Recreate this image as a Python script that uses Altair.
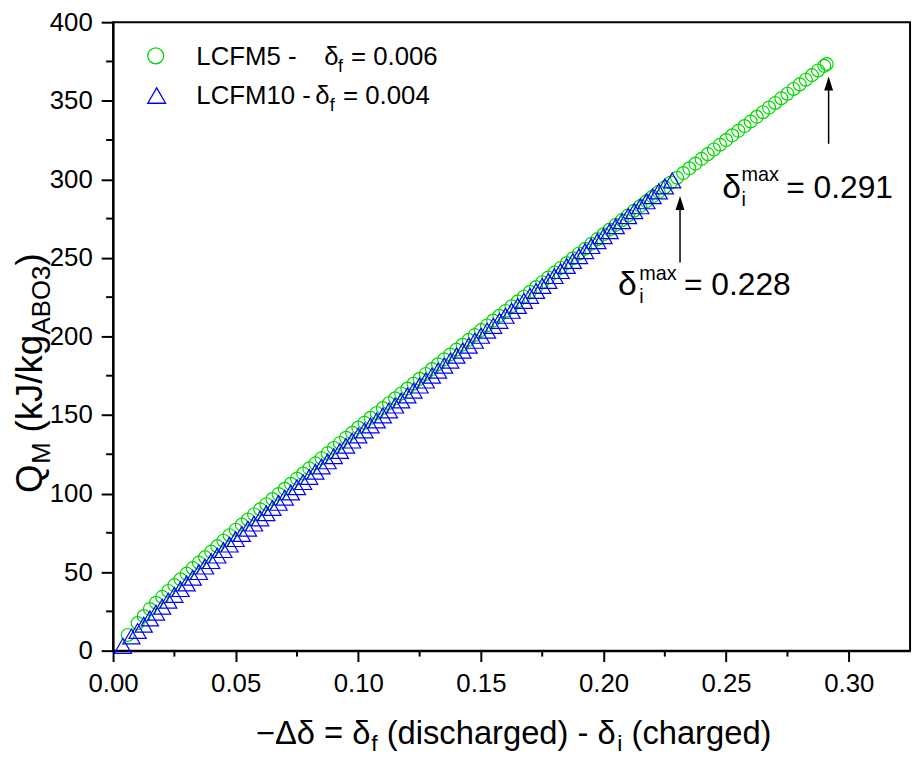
import altair as alt
import pandas as pd

# ---------------- data ----------------
lcfm5_delta = [
    0.006, 0.010, 0.0125, 0.015, 0.0175, 0.020, 0.0225, 0.025, 0.0275, 0.030,
    0.0325, 0.035, 0.0375, 0.040, 0.0425, 0.045, 0.0475, 0.050, 0.0525, 0.055,
    0.0575, 0.060, 0.0625, 0.065, 0.0675, 0.070, 0.0725, 0.075, 0.0775, 0.080,
    0.0825, 0.085, 0.0875, 0.090, 0.0925, 0.095, 0.0975, 0.100, 0.1025, 0.105,
    0.1075, 0.110, 0.1125, 0.115, 0.1175, 0.120, 0.1225, 0.125, 0.1275, 0.130,
    0.1325, 0.135, 0.1375, 0.140, 0.1425, 0.145, 0.1475, 0.150, 0.1525, 0.155,
    0.1575, 0.160, 0.1625, 0.165, 0.1675, 0.170, 0.1725, 0.175, 0.1775, 0.180,
    0.1825, 0.185, 0.1875, 0.190, 0.1925, 0.195, 0.1975, 0.200, 0.2025, 0.205,
    0.2075, 0.210, 0.2125, 0.215, 0.2175, 0.220, 0.2225, 0.225, 0.2275, 0.230,
    0.2325, 0.235, 0.2375, 0.240, 0.2425, 0.245, 0.2475, 0.250, 0.2525, 0.255,
    0.2575, 0.260, 0.2625, 0.265, 0.2675, 0.270, 0.2725, 0.275, 0.2775, 0.280,
    0.2825, 0.285, 0.2875, 0.290, 0.291,
]
lcfm5_q = [
    10, 17.5, 22, 26.5, 30.5, 34.2, 38, 41.7, 45.4, 49,
    52.5, 56, 59.5, 63, 66.5, 70, 73.5, 77, 80.2, 83.5,
    86.7, 90, 93.2, 96.5, 99.7, 103, 106.2, 109.5, 112.7, 116,
    119.2, 122.5, 125.7, 129, 132.2, 135.5, 138.7, 142, 145.1, 148.2,
    151.3, 154.4, 157.5, 160.6, 163.7, 166.8, 169.9, 173, 176.1, 179.2,
    182.3, 185.4, 188.5, 191.6, 194.7, 197.8, 200.9, 204, 207, 210.1,
    213.1, 216.2, 219.2, 222.3, 225.3, 228.4, 231.4, 234.5, 237.5, 240.6,
    243.6, 246.7, 249.7, 252.8, 255.8, 258.9, 261.9, 265, 268, 271,
    274, 277, 280, 283, 286, 289, 292, 295, 298, 301,
    304, 307, 310, 313, 316, 319, 322, 325, 328, 330.9,
    333.9, 336.8, 339.8, 342.7, 345.7, 348.6, 351.6, 354.5, 357.5, 360.4,
    363.4, 366.3, 369.3, 372.2, 373.4,
]

lcfm10_delta = [
    0.004, 0.0075, 0.010, 0.0125, 0.015, 0.0175, 0.020, 0.0225, 0.025, 0.0275,
    0.030, 0.0325, 0.035, 0.0375, 0.040, 0.0425, 0.045, 0.0475, 0.050, 0.0525,
    0.055, 0.0575, 0.060, 0.0625, 0.065, 0.0675, 0.070, 0.0725, 0.075, 0.0775,
    0.080, 0.0825, 0.085, 0.0875, 0.090, 0.0925, 0.095, 0.0975, 0.100, 0.1025,
    0.105, 0.1075, 0.110, 0.1125, 0.115, 0.1175, 0.120, 0.1225, 0.125, 0.1275,
    0.130, 0.1325, 0.135, 0.1375, 0.140, 0.1425, 0.145, 0.1475, 0.150, 0.1525,
    0.155, 0.1575, 0.160, 0.1625, 0.165, 0.1675, 0.170, 0.1725, 0.175, 0.1775,
    0.180, 0.1825, 0.185, 0.1875, 0.190, 0.1925, 0.195, 0.1975, 0.200, 0.2025,
    0.205, 0.2075, 0.210, 0.2125, 0.215, 0.2175, 0.220, 0.2225, 0.225, 0.228,
]
lcfm10_q = [
    3, 9, 12.5, 16.5, 20.5, 24.2, 28, 31.8, 35.5, 39.2,
    42.8, 46.4, 50, 53.5, 57, 60.5, 64, 67.5, 71, 74.3,
    77.6, 80.9, 84.2, 87.5, 90.8, 94.1, 97.4, 100.7, 104, 107.3,
    110.6, 113.9, 117.2, 120.5, 123.8, 127.1, 130.4, 133.7, 137, 140.2,
    143.3, 146.5, 149.7, 152.9, 156, 159.2, 162.4, 165.5, 168.7, 171.9,
    175, 178.2, 181.4, 184.6, 187.7, 190.9, 194.1, 197.2, 200.4, 203.6,
    206.7, 209.9, 213.1, 216.3, 219.4, 222.6, 225.8, 228.9, 232.1, 235.3,
    238.4, 241.6, 244.8, 248, 251.1, 254.3, 257.5, 260.6, 263.8, 267,
    270.1, 273.3, 276.5, 279.7, 282.8, 286, 289.2, 292.3, 295.5, 299.3,
]

x_ticks = [0.00, 0.05, 0.10, 0.15, 0.20, 0.25, 0.30]
x_minor = [0.025, 0.075, 0.125, 0.175, 0.225, 0.275]
y_ticks = [0, 50, 100, 150, 200, 250, 300, 350, 400]
y_minor = [25, 75, 125, 175, 225, 275, 325, 375]

# ---------------- styling ----------------
FONT = "Liberation Sans"
GREEN = "#00d600"
BLUE = "#0000ff"
W, H = 804, 634

xscale = alt.Scale(domain=[0, 0.325], nice=False, zero=False)
yscale = alt.Scale(domain=[0, 400], nice=False, zero=False)
common_axis = dict(title=None, grid=False, tickWidth=2, domainWidth=2,
                   labelFontSize=26, labelFont=FONT, labelColor="black",
                   tickColor="black", domainColor="black", labelOverlap=False)
xaxis = alt.Axis(values=x_ticks, format=".2f", tickSize=11, labelPadding=9,
                 labelFlush=False, **common_axis)
yaxis = alt.Axis(values=y_ticks, format="d", tickSize=12, labelPadding=9,
                 **common_axis)

one = alt.Data(values=[{"k": 1}])


def xd(v):
    return alt.XDatum(v, type="quantitative", scale=xscale, axis=xaxis)


def yd(v):
    return alt.YDatum(v, type="quantitative", scale=yscale, axis=yaxis)


def ptext(txt, x, y, size, angle=0):
    """text placed in view pixels (legend / axis titles)"""
    return alt.Chart(one).mark_text(
        text=txt, font=FONT, fontSize=size, color="black", align="left",
        baseline="alphabetic", angle=angle
    ).encode(x=alt.value(x), y=alt.value(y))


def dtext(txt, x, y, size):
    """text anchored in data coordinates (annotations)"""
    return alt.Chart(one).mark_text(
        text=txt, font=FONT, fontSize=size, color="black", align="left",
        baseline="alphabetic"
    ).encode(x=xd(x), y=yd(y))


green_df = pd.DataFrame({"d": lcfm5_delta, "q": lcfm5_q})
blue_df = pd.DataFrame({"d": lcfm10_delta, "q": lcfm10_q})

green = alt.Chart(green_df).mark_point(
    shape="circle", filled=False, size=169, strokeWidth=1.2, color=GREEN, opacity=1
).encode(x=alt.X("d:Q", scale=xscale, axis=xaxis), y=alt.Y("q:Q", scale=yscale, axis=yaxis))

blue = alt.Chart(blue_df).mark_point(
    shape="triangle-up", filled=False, size=300, strokeWidth=1.2, color=BLUE, opacity=1
).encode(x=alt.X("d:Q", scale=xscale, axis=xaxis), y=alt.Y("q:Q", scale=yscale, axis=yaxis))

# minor ticks
xminor = alt.Chart(pd.DataFrame({"v": x_minor})).mark_rule(color="black", strokeWidth=2).encode(
    x=alt.X("v:Q", scale=xscale, axis=xaxis), y=alt.value(H), y2=alt.value(H + 6))
yminor = alt.Chart(pd.DataFrame({"v": y_minor})).mark_rule(color="black", strokeWidth=2).encode(
    y=alt.Y("v:Q", scale=yscale, axis=yaxis), x=alt.value(-7), x2=alt.value(0))

# arrows
HEAD = "M0,-1L0.64,1L-0.64,1Z"


def arrow(x, y0, y1):
    line = alt.Chart(one).mark_rule(color="black", strokeWidth=1.5).encode(
        x=xd(x), y=yd(y0), y2=alt.Y2Datum(y1 - 6))
    head = alt.Chart(one).mark_point(
        shape=HEAD, filled=True, size=196, color="black", opacity=1, yOffset=7, strokeWidth=0
    ).encode(x=xd(x), y=yd(y1))
    return [line, head]


layers = [xminor, yminor, green, blue]
layers += arrow(0.2918, 322.6, 365.4)
layers += arrow(0.2312, 247.0, 289.3)

# annotation texts
layers += [
    dtext("δ", 0.2484, 288, 34), dtext("i", 0.2563, 283, 20),
    dtext("max", 0.2563, 298.7, 20), dtext("= 0.291", 0.2745, 288, 32),
    dtext("δ", 0.2059, 226.4, 34), dtext("i", 0.2146, 221.4, 20),
    dtext("max", 0.2146, 235.8, 20), dtext("= 0.228", 0.2328, 226.4, 32),
]

# legend
leg_circle = alt.Chart(one).mark_point(shape="circle", filled=False, size=256, strokeWidth=1.3,
                                       color=GREEN, opacity=1).encode(x=alt.value(43), y=alt.value(34))
leg_tri = alt.Chart(one).mark_point(shape="triangle-up", filled=False, size=324, strokeWidth=1.3,
                                    color=BLUE, opacity=1).encode(x=alt.value(44), y=alt.value(74))
layers += [
    leg_circle, leg_tri,
    ptext("LCFM5 -", 84, 43, 26), ptext("δ", 213, 43, 26), ptext("f", 227, 50, 18),
    ptext("= 0.006", 240, 43, 26),
    ptext("LCFM10 -", 84, 83, 26), ptext("δ", 204, 83, 26), ptext("f", 218.5, 90, 18),
    ptext("= 0.004", 232, 83, 26),
]

# x axis title: −Δδ = δf (discharged) - δi (charged)
XT = 728
layers += [
    ptext("−Δδ = δ", 144, XT, 33), ptext("f", 260.5, XT + 7, 23),
    ptext("(discharged) - δ", 276, XT, 33), ptext("i", 508.5, XT + 7, 23),
    ptext("(charged)", 523, XT, 33),
]

# y axis title: Q_M (kJ/kg_ABO3)  (rotated, reads bottom to top)
YX, YXS = -72, -64
layers += [
    ptext("Q", YX, 475, 37, 270), ptext("M", YXS, 445.5, 26, 270),
    ptext("(kJ/kg", YX, 414, 37, 270), ptext("ABO3", YXS, 315, 26, 270),
    ptext(")", YX, 245.5, 37, 270),
]

chart = alt.layer(*layers).properties(
    width=W, height=H,
    autosize=alt.AutoSizeParams(type="none"),
    padding={"left": 106, "top": 11, "right": 5, "bottom": 106},
    background="white",
).configure_view(stroke="black", strokeWidth=2)

chart.save("out.html", embed_options={"renderer": "svg", "actions": False})
